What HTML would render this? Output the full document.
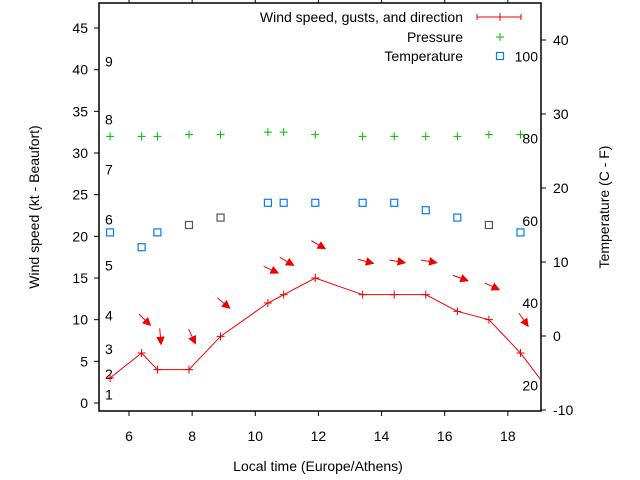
<!DOCTYPE html>
<html><head><meta charset="utf-8"><style>
body{margin:0;background:#fff}
svg{display:block;font-family:"Liberation Sans",sans-serif}
</style></head><body>
<svg id="c" width="640" height="480" xmlns="http://www.w3.org/2000/svg"></svg>
<script>
const times=[5.4,6.4,6.9,7.9,8.9,10.4,10.9,11.9,13.4,14.4,15.4,16.4,17.4,18.4,19.4];
const wind=[3,6,4,4,8,12,13,15,13,13,13,11,10,6,1];
const windDir=[null,45,85,65,40,25,30,30,15,10,10,20,25,55,null];
const pressure=[32,32,32,32.2,32.2,32.5,32.5,32.2,32,32,32,32,32.2,32.2,null];
const temp=[14,12,14,15,16,18,18,18,18,18,17,16,15,14,null];
const tempGray=[false,false,false,true,true,false,false,false,false,false,false,false,true,false,false];
const xTicks=[6,8,10,12,14,16,18];
const yTicks=[0,5,10,15,20,25,30,35,40,45];
const y2Ticks=[-10,0,10,20,30,40];
const beaufort=[[1,1],[2,3.5],[3,6.5],[4,10.5],[5,16.5],[6,22],[7,28],[8,34],[9,41]];
const fahr=[20,40,60,80,100];

const L=99,R=541,T=3,B=411;
const X=v=>L+(v-5.05)*(R-L)/14;
const Y=v=>403-v*8.333;
const Y2=v=>336-v*7.4;
const NS="http://www.w3.org/2000/svg";
const svg=document.getElementById('c');
function el(t,a,p){const e=document.createElementNS(NS,t);for(const k in a)e.setAttribute(k,a[k]);(p||svg).appendChild(e);return e;}
function txt(s,x,y,anchor,name){const e=el('text',{x:x,y:y,'font-size':14,'text-anchor':anchor||'start',fill:'#000'});e.textContent=s;


return e;}

const fr=el('rect',{x:L,y:T,width:R-L,height:B-T,fill:'none',stroke:'#000','stroke-width':1.5});


xTicks.forEach(v=>{const x=X(v);
 const t=el('path',{d:`M${x},${B}v5M${x},${T}v-4`,stroke:'#000'});
 
 
 txt(String(v),x,441,'middle','x-tick-label');});
yTicks.forEach(v=>{const y=Y(v);
 const t=el('path',{d:`M${L},${y}h-5`,stroke:'#000'});
 
 
 txt(String(v),88,y+5,'end','y-tick-label');});
y2Ticks.forEach(v=>{const y=Y2(v);
 const t=el('path',{d:`M${R},${y}h5`,stroke:'#000'});
 
 
 txt(String(v),553,y+5,'start','y2-tick-label');});
beaufort.forEach(b=>txt(String(b[0]),105,Y(b[1])+5,'start','beaufort-label'));
fahr.forEach(f=>txt(String(f),538,Y2((f-32)*5/9)+5,'end','fahrenheit-label'));

txt('Local time (Europe/Athens)',318,471,'middle','x-axis-title');
const yt=txt('Wind speed (kt - Beaufort)',0,0,'middle','y-axis-title');
yt.setAttribute('transform','translate(39,207) rotate(-90)');
const y2t=txt('Temperature (C - F)',0,0,'middle','y2-axis-title');
y2t.setAttribute('transform','translate(609,207) rotate(-90)');

function cross(x,y,c,s,name){const p=el('path',{d:`M${x-s},${y}h${2*s}M${x},${y-s}v${2*s}`,stroke:c,'stroke-width':1});
 
 }
function square(x,y,c,name){const r=el('rect',{x:x-3.5,y:y-3.5,width:7,height:7,fill:'none',stroke:c,'stroke-width':1.2});
 
 }

const defs=el('defs',{});const cp=el('clipPath',{id:'pc'},defs);el('rect',{x:L,y:T,width:R-L,height:B-T},cp);
const g=el('g',{'clip-path':'url(#pc)'});



const wl=el('polyline',{points:times.map((t,i)=>X(t)+','+Y(wind[i])).join(' '),fill:'none',stroke:'#e00','stroke-width':1},g);


times.forEach((t,i)=>{if(X(t)<R-2)cross(X(t),Y(wind[i]),'#e00',4,'wind-point');});
times.forEach((t,i)=>{const d=windDir[i];if(d==null)return;
 const cx=X(t)+3,cy=Y(wind[i]+4),a=d*Math.PI/180,l=8;
 const x1=cx-l*Math.cos(a),y1=cy-l*Math.sin(a),x2=cx+l*Math.cos(a),y2=cy+l*Math.sin(a);
 const ag=el('g',{},g);
 
 
 el('line',{x1:x1,y1:y1,x2:x2,y2:y2,stroke:'#e00','stroke-width':1},ag);
 const hx=x2-7*Math.cos(a),hy=y2-7*Math.sin(a),px=-Math.sin(a)*3.5,py=Math.cos(a)*3.5;
 el('polygon',{points:`${x2},${y2} ${hx+px},${hy+py} ${hx-px},${hy-py}`,fill:'#e00',stroke:'#e00','stroke-width':1},ag);});
times.forEach((t,i)=>{if(pressure[i]!=null)cross(X(t),Y(pressure[i]),'#0b0',4,'pressure-point');});
times.forEach((t,i)=>{if(temp[i]!=null)square(X(t),Y2(temp[i]),tempGray[i]?'#555':'#0a7af0','temperature-point');});

txt('Wind speed, gusts, and direction',463,22,'end','legend-wind-label');
const lw=el('path',{d:'M477,17h44M477,14v6M521,14v6M500,13v8',stroke:'#e00','stroke-width':1});


txt('Pressure',463,42,'end','legend-pressure-label');
cross(500,37,'#0b0',4,'legend-pressure-sample');
txt('Temperature',463,61,'end','legend-temperature-label');
square(500,56,'#0a7af0','legend-temperature-sample');
</script>
</body></html>
